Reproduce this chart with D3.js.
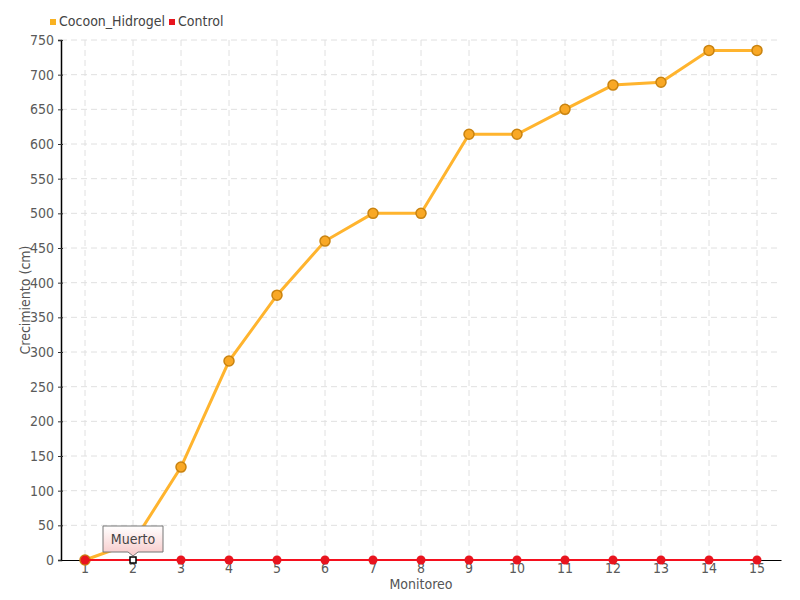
<!DOCTYPE html>
<html>
<head>
<meta charset="utf-8">
<script src="https://cdn.jsdelivr.net/npm/d3@7"></script>
<style>
  body { margin: 0; background: #fff; }
  text { font-family: "DejaVu Sans", sans-serif; font-stretch: condensed; }
</style>
</head>
<body>
<div class="container"></div>
<script>
// Data
const monitoreo = ["1","2","3","4","5","6","7","8","9","10","11","12","13","14","15"];
const cocoonHidrogel = [0, 25, 134, 287, 382, 460, 500, 500, 614, 614, 650, 685, 689, 735, 735];
const control = [0, 0, 0, 0, 0, 0, 0, 0, 0, 0, 0, 0, 0, 0, 0];
const yTicks = [0, 50, 100, 150, 200, 250, 300, 350, 400, 450, 500, 550, 600, 650, 700, 750];
const tooltipIndex = 1, tooltipText = "Muerto";

const width = 800, height = 600,
    margin = { top: 40, right: 19, bottom: 40, left: 61 };

const svg = d3.select(".container")
    .append("svg")
    .attr("width", width)
    .attr("height", height);

const defs = svg.append("defs");
const grad = defs.append("linearGradient").attr("id", "tipGrad")
    .attr("x1", 0).attr("y1", 0).attr("x2", 0).attr("y2", 1);
grad.append("stop").attr("offset", "0%").attr("stop-color", "#ffffff");
grad.append("stop").attr("offset", "100%").attr("stop-color", "#f7c8c8");

const x = d3.scaleBand()
    .domain(monitoreo)
    .range([margin.left, width - margin.right]);
const cx = d => x(d) + x.bandwidth() / 2;

const y = d3.scaleLinear()
    .domain([0, 750])
    .range([height - margin.bottom, margin.top]);

// grid
svg.append("g")
    .selectAll("line")
    .data(yTicks.filter(d => d > 0))
    .enter()
    .append("line")
    .attr("x1", margin.left).attr("x2", width - margin.right)
    .attr("y1", d => y(d)).attr("y2", d => y(d))
    .attr("stroke", "#e0e0e0")
    .attr("stroke-dasharray", "6,4");

svg.append("g")
    .selectAll("line")
    .data(monitoreo)
    .enter()
    .append("line")
    .attr("x1", d => cx(d)).attr("x2", d => cx(d))
    .attr("y1", margin.top).attr("y2", height - margin.bottom)
    .attr("stroke", "#e0e0e0")
    .attr("stroke-dasharray", "6,4");

// axes
const yAxis = svg.append("g")
    .attr("transform", `translate(${margin.left},0)`)
    .call(d3.axisLeft(y).tickValues(yTicks).tickSize(3).tickPadding(4));
yAxis.select(".domain").attr("stroke", "#000").attr("stroke-width", 1.5);
yAxis.selectAll(".tick line").attr("x2", 2).attr("x1", -3).attr("stroke", "#333");
yAxis.selectAll("text").attr("font-size", 14).attr("fill", "#5a5a5a");

const xAxis = svg.append("g")
    .attr("transform", `translate(0,${height - margin.bottom})`)
    .call(d3.axisBottom(x).tickSize(0).tickPadding(3));
xAxis.select(".domain").attr("stroke", "#000").attr("stroke-width", 1);
xAxis.selectAll("text").attr("font-size", 14).attr("fill", "#5a5a5a");

// axis titles
svg.append("text")
    .attr("x", (margin.left + width - margin.right) / 2)
    .attr("y", 589)
    .attr("text-anchor", "middle")
    .attr("font-size", 14)
    .attr("fill", "#555")
    .text("Monitoreo");

svg.append("text")
    .attr("transform", `translate(30,${300}) rotate(-90)`)
    .attr("text-anchor", "middle")
    .attr("font-size", 14)
    .attr("fill", "#555")
    .text("Crecimiento (cm)");

// series
const line = d3.line().x((d, i) => cx(monitoreo[i])).y(d => y(d));

svg.append("path")
    .datum(cocoonHidrogel)
    .attr("d", line)
    .attr("fill", "none")
    .attr("stroke", "#ffb42e")
    .attr("stroke-width", 3);

svg.append("g")
    .selectAll("circle")
    .data(cocoonHidrogel)
    .enter()
    .append("circle")
    .attr("cx", (d, i) => cx(monitoreo[i]))
    .attr("cy", d => y(d))
    .attr("r", 5)
    .attr("fill", "#f9a825")
    .attr("stroke", "#c98310")
    .attr("stroke-width", 1.5);

svg.append("path")
    .datum(control)
    .attr("d", line)
    .attr("fill", "none")
    .attr("stroke", "#f5101e")
    .attr("stroke-width", 2);

svg.append("g")
    .selectAll("circle")
    .data(control.map((v, i) => ({ v, i })).filter(d => d.i !== tooltipIndex))
    .enter()
    .append("circle")
    .attr("cx", d => cx(monitoreo[d.i]))
    .attr("cy", d => y(d.v))
    .attr("r", 4.5)
    .attr("fill", "#e8141e");

// hovered point + tooltip
const tx = cx(monitoreo[tooltipIndex]), ty = y(control[tooltipIndex]);
svg.append("rect")
    .attr("x", tx - 3).attr("y", ty - 3)
    .attr("width", 6).attr("height", 6)
    .attr("fill", "#fff")
    .attr("stroke", "#000")
    .attr("stroke-width", 1.5);

const tip = svg.append("g");
tip.append("path")
    .attr("d", `M${tx - 30},${ty - 34} H${tx + 30} V${ty - 8} H${tx + 5} L${tx},${ty - 4} L${tx - 5},${ty - 8} H${tx - 30} Z`)
    .attr("fill", "url(#tipGrad)")
    .attr("stroke", "#777")
    .attr("stroke-width", 1);
tip.append("text")
    .attr("x", tx).attr("y", ty - 16)
    .attr("text-anchor", "middle")
    .attr("font-size", 14)
    .attr("fill", "#444")
    .text(tooltipText);

// legend
const legendItems = [
    { name: "Cocoon_Hidrogel", color: "#f9b222", x: 50 },
    { name: "Control", color: "#e8141e", x: 169 }
];
const legend = svg.append("g").selectAll("g")
    .data(legendItems)
    .enter()
    .append("g");
legend.append("rect")
    .attr("x", d => d.x).attr("y", 19)
    .attr("width", 6).attr("height", 6)
    .attr("fill", d => d.color);
legend.append("text")
    .attr("x", d => d.x + 9).attr("y", 26)
    .attr("font-size", 14)
    .attr("fill", "#444")
    .text(d => d.name);
</script>
</body>
</html>
